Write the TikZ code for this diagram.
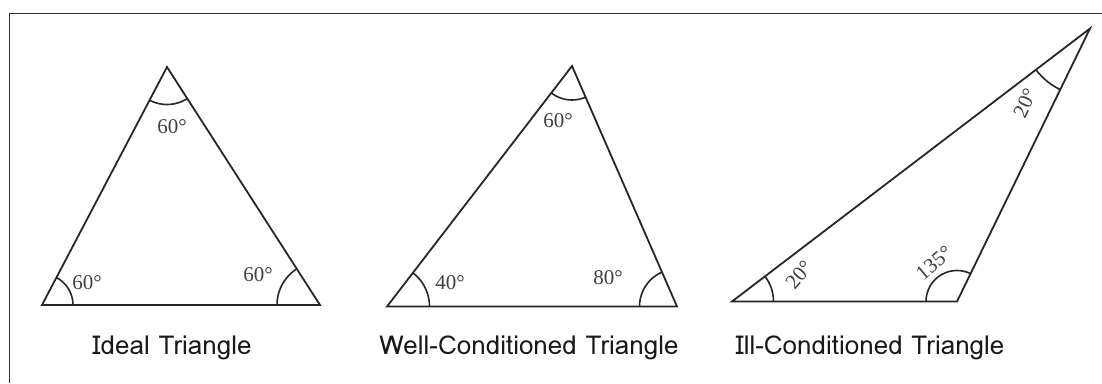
\documentclass[tikz,border=0pt]{standalone}
\usepackage{fontspec}
\setmainfont{Liberation Serif}
\newfontfamily\capfont{Loma}
\tikzset{
  tri/.style={draw=black!85, line width=1.8pt, line join=miter},
  arcl/.style={draw=black!85, line width=1.6pt},
  deg/.style={font=\fontsize{21}{21}\selectfont, text=black!75, inner sep=0pt},
  captxt/.style={font=\capfont\fontsize{26}{26}\selectfont, text=black!90, inner sep=0pt},
  borderline/.style={draw=black!80, line width=1.6pt}
}
\begin{document}
\begin{tikzpicture}[x=1pt,y=-1pt]
\useasboundingbox (0,0) rectangle (1102,383);
% frame
\coordinate (f1) at (9.5,383);
\coordinate (f2) at (9.5,13.5);
\coordinate (f3) at (1102,13.5);
\draw[borderline] (f1) -- (f2) -- (f3);

% Triangle 1
\coordinate (a1) at (42,305);
\coordinate (a2) at (167,67);
\coordinate (a3) at (320,305);
\begin{scope}
\clip (a1) -- (a2) -- (a3) -- cycle;
\draw[arcl] (a1) circle (31);
\draw[arcl] (a2) circle (37.5);
\draw[arcl] (a3) circle (43);
\end{scope}
\draw[tri] (a1) -- (a2) -- (a3) -- cycle;
\node[deg] (la2) at (172,127) {60°};
\node[deg] (la1) at (87,283) {60°};
\node[deg] (la3) at (258,275) {60°};
\node[captxt] (ca) at (172,348) {Ideal Triangle};

% Triangle 2
\coordinate (b1) at (387,306.5);
\coordinate (b2) at (572,66);
\coordinate (b3) at (677,306.5);
\begin{scope}
\clip (b1) -- (b2) -- (b3) -- cycle;
\draw[arcl] (b1) circle (42.5);
\draw[arcl] (b2) circle (34);
\draw[arcl] (b3) circle (37.5);
\end{scope}
\draw[tri] (b1) -- (b2) -- (b3) -- cycle;
\node[deg] (lb2) at (558,121) {60°};
\node[deg] (lb1) at (450,283) {40°};
\node[deg] (lb3) at (608,278) {80°};
\node[captxt] (cb) at (529,348) {Well-Conditioned Triangle};

% Triangle 3
\coordinate (c1) at (732,301.5);
\coordinate (c2) at (1090,28.5);
\coordinate (c3) at (957,301.5);
\begin{scope}
\clip (c1) -- (c2) -- (c3) -- cycle;
\draw[arcl] (c1) circle (41.5);
\draw[arcl] (c2) circle (68);
\draw[arcl] (c3) circle (31);
\end{scope}
\draw[tri] (c1) -- (c2) -- (c3) -- cycle;
\node[deg, rotate=50] (lc1) at (799,275) {20°};
\node[deg, rotate=40] (lc3) at (934,263) {135°};
\node[deg, rotate=65] (lc2) at (1025,103) {20°};
\node[captxt] (cc) at (870,348) {Ill-Conditioned Triangle};
\end{tikzpicture}
\end{document}
